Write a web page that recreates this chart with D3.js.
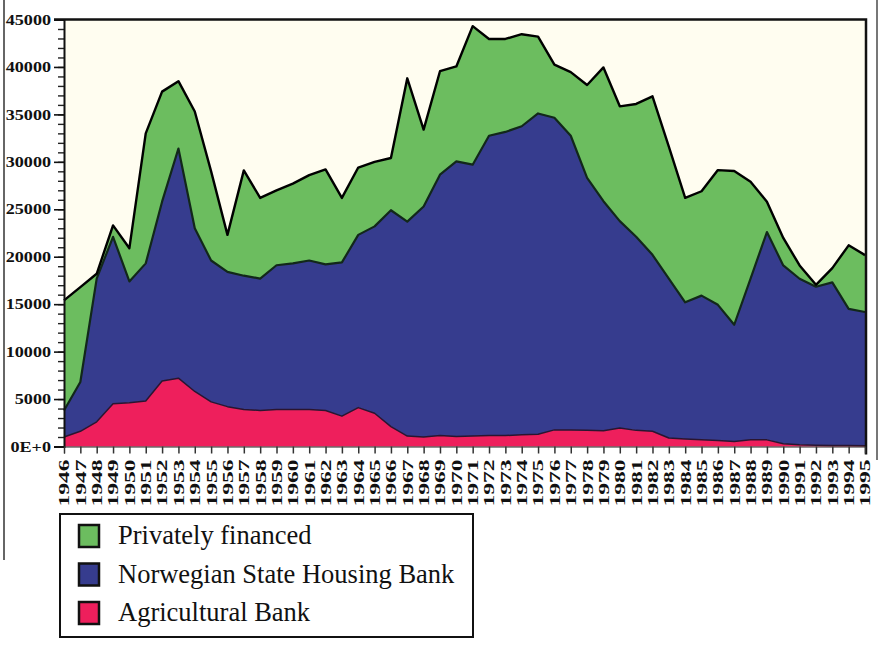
<!DOCTYPE html>
<html>
<head>
<meta charset="utf-8">
<script src="https://cdn.jsdelivr.net/npm/d3@7"></script>
<style>
  body { margin: 0; background: #fff; }
  svg { display: block; }
</style>
</head>
<body>
<script>
const years = [1946,1947,1948,1949,1950,1951,1952,1953,1954,1955,1956,1957,1958,1959,1960,
  1961,1962,1963,1964,1965,1966,1967,1968,1969,1970,1971,1972,1973,1974,1975,1976,1977,
  1978,1979,1980,1981,1982,1983,1984,1985,1986,1987,1988,1989,1990,1991,1992,1993,1994,1995];

// dwellings financed, by source
const agricultural = [1000,1600,2600,4500,4600,4800,6900,7200,5800,4700,4200,3900,3800,3900,3900,
  3900,3800,3200,4100,3500,2100,1100,1000,1150,1050,1100,1150,1150,1250,1300,1750,1750,
  1700,1650,1950,1700,1600,900,800,700,630,530,700,700,280,180,140,100,100,70];
const stateBank = [2800,5200,15100,17600,12800,14500,18900,24200,17200,14900,14200,14100,13900,15200,15400,
  15700,15400,16200,18200,19700,22800,22600,24300,27500,29000,28600,31600,32000,32500,33800,32900,31000,
  26600,24200,21800,20400,18600,16800,14400,15200,14300,12300,17000,21900,18800,17500,16700,17200,14400,14100];
const privately = [11600,10000,500,1200,3500,13700,11600,7100,12300,9400,3900,11100,8500,7900,8400,
  9000,10000,6800,7100,6800,5500,15100,8100,10900,10000,14600,10200,9800,9700,8100,5600,6700,
  9800,14100,12100,14000,16700,13900,11000,11000,14200,16200,10200,3200,2900,1400,200,1500,6700,6000];

const majorTicks = [0,5000,10000,15000,20000,25000,30000,35000,40000,45000];
const seriesNames = ["Privately financed", "Norwegian State Housing Bank", "Agricultural Bank"];

const width = 883, height = 650;
const x0 = 64, x1 = 866, yTop = 19.5, yBot = 446.5;

const colors = {agri: "#ee1f5c", state: "#363c8e", priv: "#6cbd5f"};

const table = years.map((yr, i) => ({
  year: yr, agri: agricultural[i], state: stateBank[i], priv: privately[i]
}));

const stack = d3.stack().keys(["agri", "state", "priv"]);
const layers = stack(table);

const x = d3.scaleLinear().domain([1946, 1995]).range([x0, x1 - 1]);
const y = d3.scaleLinear().domain([0, 45000]).range([yBot, yTop]);

const svg = d3.select("body").append("svg")
  .attr("width", width)
  .attr("height", height)
  .style("font-family", "'Liberation Serif', 'Times New Roman', serif");

// scanned page edges
svg.append("line").attr("x1", 4).attr("x2", 4).attr("y1", 0).attr("y2", 560)
  .attr("stroke", "#666").attr("stroke-width", 2);
svg.append("line").attr("x1", 877).attr("x2", 877).attr("y1", 0).attr("y2", 460)
  .attr("stroke", "#777").attr("stroke-width", 2);

// plot background
svg.append("rect")
  .attr("x", x0).attr("y", yTop)
  .attr("width", x1 - x0).attr("height", yBot - yTop)
  .attr("fill", "#fffdf0");

const area = d3.area()
  .x((d) => x(d.data.year))
  .y0((d) => y(d[0]))
  .y1((d) => y(d[1]));

const topLine = d3.line()
  .x((d) => x(d.data.year))
  .y((d) => y(d[1]));

const fills = [colors.agri, colors.state, colors.priv];
const edges = ["#2a1530", "#12281a", "#000"];
const edgeW = [1.5, 2.2, 2.4];

svg.append("g")
  .selectAll("path")
  .data(layers)
  .enter()
  .append("path")
  .attr("d", area)
  .attr("fill", (d, i) => fills[i]);

svg.append("g")
  .selectAll("path")
  .data(layers)
  .enter()
  .append("path")
  .attr("d", topLine)
  .attr("fill", "none")
  .attr("stroke", (d, i) => edges[i])
  .attr("stroke-width", (d, i) => edgeW[i])
  .attr("stroke-linejoin", "round");

// frame: top and right
svg.append("path")
  .attr("d", `M${x0 - 10},${yTop}H${x1}V${yBot + 8}`)
  .attr("fill", "none")
  .attr("stroke", "#111")
  .attr("stroke-width", 2.5);

// y axis, minor ticks every 1000
const yMinor = d3.axisLeft(y).ticks(45).tickSize(6).tickFormat("");
svg.append("g")
  .attr("transform", `translate(${x0},0)`)
  .call(yMinor)
  .call((g) => g.select(".domain").remove())
  .call((g) => g.selectAll("line").attr("stroke", "#222").attr("stroke-width", 1.4));

const yAxis = d3.axisLeft(y)
  .tickValues(majorTicks)
  .tickSize(10)
  .tickPadding(3)
  .tickFormat((d) => d === 0 ? "0E+0" : d);

svg.append("g")
  .attr("transform", `translate(${x0},0)`)
  .call(yAxis)
  .call((g) => g.select(".domain").attr("stroke", "#111").attr("stroke-width", 2))
  .call((g) => g.selectAll("line").attr("stroke", "#111").attr("stroke-width", 1.6))
  .call((g) => g.selectAll("text")
    .attr("font-family", "'Liberation Serif', serif")
    .attr("font-weight", "bold")
    .attr("font-size", 14.5)
    .attr("fill", "#111")
    .attr("textLength", function() { return this.getComputedTextLength() * 1.25; })
    .attr("lengthAdjust", "spacingAndGlyphs"));

// x axis
const xAxis = d3.axisBottom(x)
  .tickValues(years)
  .tickSize(7)
  .tickFormat(d3.format("d"));

svg.append("g")
  .attr("transform", `translate(0,${yBot})`)
  .call(xAxis)
  .call((g) => g.select(".domain").attr("stroke", "#222").attr("stroke-width", 1))
  .call((g) => g.selectAll("line").attr("stroke", "#333").attr("stroke-width", 1.5))
  .call((g) => g.selectAll("text")
    .attr("font-family", "'Liberation Serif', serif")
    .attr("font-weight", "bold")
    .attr("font-size", 14)
    .attr("fill", "#111")
    .attr("text-anchor", "end")
    .attr("dy", "0.35em")
    .attr("transform", "translate(0,3) rotate(-90)")
    .attr("x", -10)
    .attr("y", 0)
    .attr("textLength", 47)
    .attr("lengthAdjust", "spacingAndGlyphs"));

// legend
const legend = svg.append("g").attr("transform", "translate(60,514)");
legend.append("rect")
  .attr("width", 413).attr("height", 123)
  .attr("fill", "#fff")
  .attr("stroke", "#111").attr("stroke-width", 2);

const legendColors = [colors.priv, colors.state, colors.agri];
const item = legend.selectAll("g.item")
  .data(seriesNames)
  .enter()
  .append("g")
  .attr("class", "item")
  .attr("transform", (d, i) => `translate(0,${22 + i * 38.5})`);

item.append("rect")
  .attr("x", 19).attr("y", -11)
  .attr("width", 20).attr("height", 22)
  .attr("fill", (d, i) => legendColors[i])
  .attr("stroke", "#111").attr("stroke-width", 2.5);

item.append("text")
  .attr("x", 58).attr("y", 8)
  .attr("font-size", 26.5)
  .attr("fill", "#111")
  .text((d) => d);
</script>
</body>
</html>
